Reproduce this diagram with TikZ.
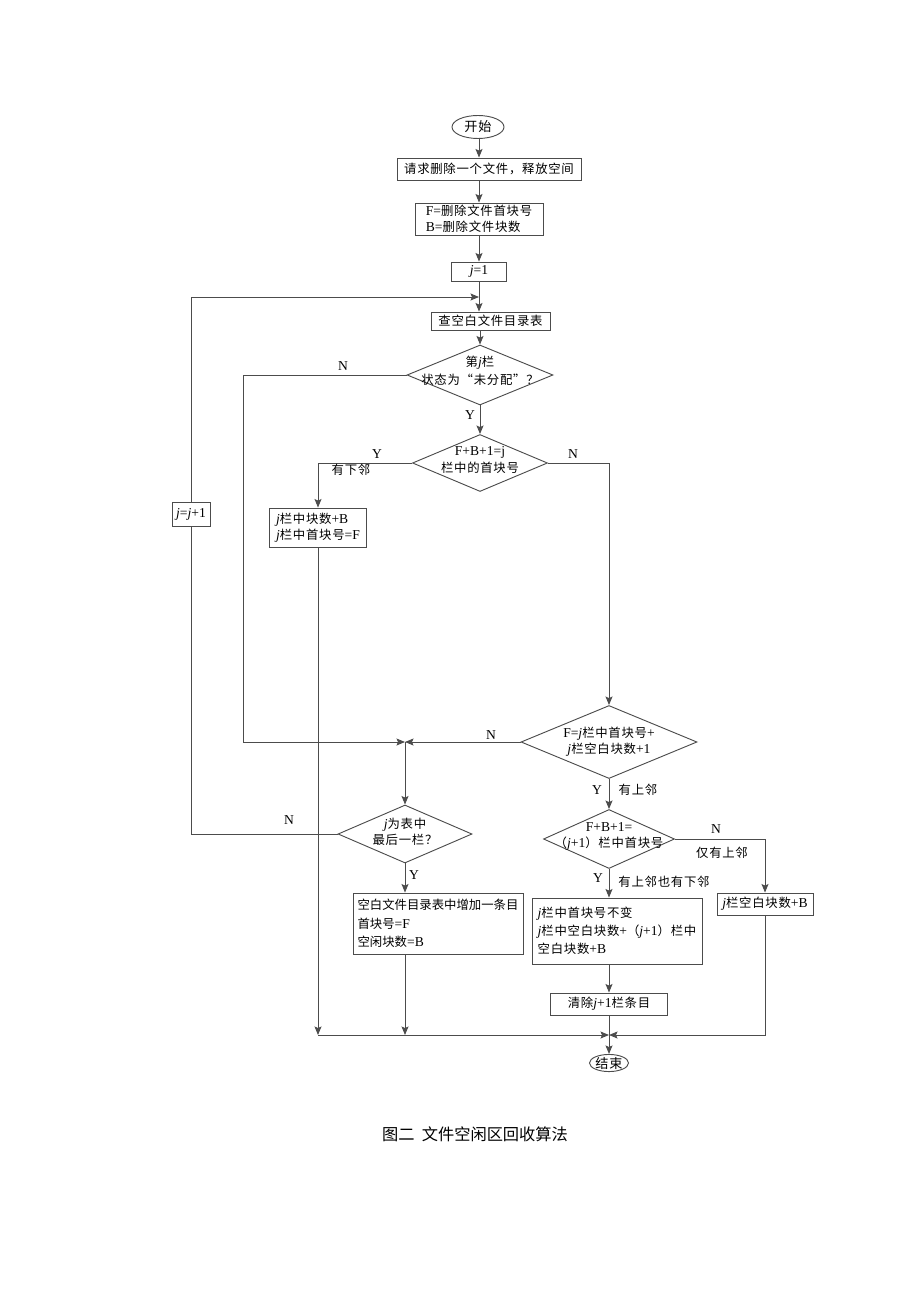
\documentclass[tikz,border=0pt]{standalone}
\usepackage{fontspec}
\setmainfont[Scale=1.1]{Liberation Serif}
\newfontfamily\cjk[LetterSpace=6]{Noto Sans CJK SC}
\newfontfamily\cjkcap{Noto Sans CJK SC}
\usepackage{tikz}
\usetikzlibrary{arrows.meta,positioning,shapes.geometric,calc}
\definecolor{linegray}{gray}{0.3}
\newcommand{\pxl}{0.6468pt}
\newcommand{\la}[1]{{\rmfamily #1}}
\newcommand{\jj}{{\rmfamily\itshape j}}
\tikzset{
  box/.style = {draw=linegray, line width=0.6pt, rectangle, inner sep=0pt, font=\fontsize{8}{10.4}\selectfont\cjk},
  dec/.style = {draw=linegray, line width=0.6pt, diamond, inner sep=0pt},
  dtxt/.style = {align=center, inner sep=0pt, font=\fontsize{8}{10.4}\selectfont\cjk},
  term/.style = {draw=linegray, line width=0.6pt, ellipse, inner sep=0pt, font=\fontsize{8.5}{10}\selectfont\cjk},
  lab/.style = {inner sep=0pt, font=\fontsize{8}{10}\selectfont},
  zlab/.style = {inner sep=0pt, font=\fontsize{8}{10}\selectfont\cjk},
  flow/.style = {draw=linegray, line width=0.6pt, -{Stealth[length=5.5pt, width=4.5pt, inset=1pt]}}
}
\begin{document}
\begin{tikzpicture}[x=\pxl, y=-\pxl]
  \useasboundingbox (0,0) rectangle (920,1302);
  \node[term, minimum width=52*\pxl, minimum height=23*\pxl] (start) at (478,127) {开始};
  \node[box, minimum width=184*\pxl, minimum height=22*\pxl] (req) at (489,169) {请求删除一个文件，释放空间};
  \node[box, align=left, minimum width=128*\pxl, minimum height=32*\pxl] (fb) at (479,219) {\la{F=}删除文件首块号\\\la{B=}删除文件块数};
  \node[box, minimum width=55*\pxl, minimum height=19*\pxl] (j1) at (479,271.5) {\la{\jj=1}};
  \node[box, minimum width=119*\pxl, minimum height=18*\pxl] (look) at (490.5,321) {查空白文件目录表};
  \node[dec, minimum width=146*\pxl, minimum height=60*\pxl,
        label={[dtxt, font=\fontsize{8}{11.6}\selectfont\cjk, yshift=4*\pxl]center:{第\jj 栏\\状态为“未分配”？}}] (d1) at (480,375) {};
  \node[dec, minimum width=135*\pxl, minimum height=57*\pxl,
        label={[dtxt, yshift=3*\pxl]center:{\la{F+B+1=j}\\栏中的首块号}}] (d2) at (480,463) {};
  \node[box, align=left, minimum width=97*\pxl, minimum height=39*\pxl] (nb) at (318,527.5) {\jj 栏中块数\la{+B}\\\jj 栏中首块号\la{=F}};
  \node[box, minimum width=38*\pxl, minimum height=24*\pxl] (jinc) at (191,514) {\la{\jj=\jj+1}};
  \node[dec, minimum width=176*\pxl, minimum height=73*\pxl,
        label={[dtxt]center:{\la{F=}\jj 栏中首块号\la{+}\\\jj 栏空白块数\la{+1}}}] (d3) at (609,742) {};
  \node[dec, minimum width=134*\pxl, minimum height=58*\pxl,
        label={[dtxt, yshift=2*\pxl]center:{\jj 为表中\\最后一栏？}}] (d4) at (405,834) {};
  \node[box, align=left, font=\fontsize{8}{12}\selectfont\cjkcap, minimum width=170*\pxl, minimum height=61*\pxl] (addrow) at (438,923.5) {空白文件目录表中增加一条目\\首块号\la{=F}\\空闲块数\la{=B}};
  \node[dec, minimum width=131*\pxl, minimum height=59*\pxl,
        label={[dtxt, yshift=3*\pxl]center:{\la{F+B+1=}\\（\la{\jj+1}）栏中首块号}}] (d5) at (609,839) {};
  \node[box, align=left, font=\fontsize{8}{11.6}\selectfont\cjk, minimum width=170*\pxl, minimum height=66*\pxl] (both) at (617,931) {\jj 栏中首块号不变\\\jj 栏中空白块数\la{+}（\la{\jj+1}）栏中\\空白块数\la{+B}};
  \node[box, minimum width=96*\pxl, minimum height=22*\pxl] (up) at (765,904) {\jj 栏空白块数\la{+B}};
  \node[box, minimum width=117*\pxl, minimum height=22*\pxl] (clr) at (609,1004) {清除\la{\jj+1}栏条目};
  \node[term, minimum width=39*\pxl, minimum height=17*\pxl] (end) at (609,1063) {结束};
  \coordinate (lp) at (479,297);
  \coordinate (nl) at (243,742);
  \coordinate (jn1) at (405,742);
  \coordinate (jn2) at (609,1035);
  \draw[flow] (start.south -| j1) -- (j1 |- req.north);
  \draw[flow] (req.south -| fb.north) -- (fb.north);
  \draw[flow] (fb.south) -- (j1.north);
  \draw[flow] (j1.south) -- (j1.south |- look.north);
  \draw[flow] (jinc.north) |- (lp);
  \draw[flow] (look.south -| d1.north) -- (d1.north);
  \draw[flow] (d1.west) -| (nl) -- (jn1);
  \draw[flow] (d1.south) -- (d2.north);
  \draw[flow] (d2.west) -| (nb.north);
  \draw[flow] (d2.east) -| (d3.north);
  \draw[flow] (d3.west) -- (jn1);
  \draw[flow] (jn1) -- (d4.north);
  \draw[draw=linegray, line width=0.6pt] (d4.west) -| (jinc.south);
  \draw[flow] (d4.south) -- (d4.south |- addrow.north);
  \draw[flow] (d3.south) -- (d5.north);
  \draw[flow] (d5.east) -| (up.north);
  \draw[flow] (d5.south) -- (d5.south |- both.north);
  \draw[flow] (both.south -| clr.north) -- (clr.north);
  \draw[flow] (nb.south) -- (nb.south |- jn2);
  \draw[flow] (addrow.south -| d4.south) -- (d4.south |- jn2);
  \draw[flow] (nb.south |- jn2) -- (jn2);
  \draw[flow] (up.south) |- (jn2);
  \draw[flow] (clr.south) -- (end.north);
  \node[lab] (n1) at (343,366) {N};
  \node[lab] (y1) at (470,415) {Y};
  \node[lab] (y2) at (377,454) {Y};
  \node[zlab] (lowadj) at (351,470) {有下邻};
  \node[lab] (n2) at (573,454) {N};
  \node[lab] (n3) at (491,735) {N};
  \node[lab] (y3) at (597,790) {Y};
  \node[zlab] (upadj) at (638,790) {有上邻};
  \node[lab] (n4) at (289,820) {N};
  \node[lab] (y4) at (414,875) {Y};
  \node[lab] (n5) at (716,829) {N};
  \node[zlab] (uponly) at (722,853) {仅有上邻};
  \node[lab] (y5) at (598,878) {Y};
  \node[zlab] (bothadj) at (664,882) {有上邻也有下邻};
  \node[inner sep=0pt, font=\fontsize{10.5}{12}\selectfont\cjkcap] (caption) at (475,1134) {图二\ \ 文件空闲区回收算法};
\end{tikzpicture}
\end{document}
